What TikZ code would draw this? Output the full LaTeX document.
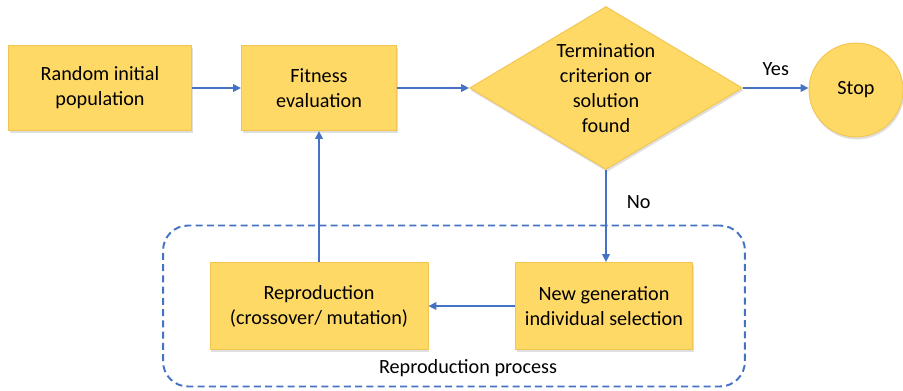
\documentclass[tikz,border=0pt]{standalone}
\usepackage{fontspec}
\setmainfont{Carlito}
\usetikzlibrary{shapes.geometric,arrows.meta,shadows}
\definecolor{gabox}{RGB}{255,217,102}
\definecolor{gaedge}{RGB}{242,196,80}
\definecolor{gablue}{RGB}{68,114,196}
\begin{document}
\begin{tikzpicture}[x=0.02cm,y=-0.02cm,
    font=\fontsize{11.5}{14.2}\selectfont,
    gastep/.style={draw=gaedge,line width=.5pt,fill=gabox,align=center,
      drop shadow={opacity=.25,shadow xshift=.6pt,shadow yshift=-1.4pt}},
    arr/.style={draw=gablue,line width=1.1pt,-{Triangle[length=4.5pt,width=4.2pt]}}]
  \useasboundingbox (0,0) rectangle (903,390);
  % top row
  \node[gastep,minimum width=3.66cm,minimum height=1.7cm] (init) at (100,88)
    {Random initial\\population};
  \node[gastep,minimum width=3.1cm,minimum height=1.7cm] (fit) at (319,88)
    {Fitness\\evaluation};
  \node[gastep,diamond,aspect=1.67,inner sep=0pt,minimum width=5.46cm,
    minimum height=3.26cm] (term) at (606,88)
    {Termination\\criterion or\\solution\\found};
  \node[gastep,circle,minimum size=1.88cm,inner sep=0pt] (stop) at (856,90) {Stop};
  % reproduction loop
  \node[draw=gablue,line width=1.1pt,dash pattern=on 4pt off 2.4pt,
    rounded corners=.5cm,minimum width=11.64cm,minimum height=3.22cm] (proc) at (454,306) {};
  \node[gastep,minimum width=4.36cm,minimum height=1.74cm] (repro) at (319,306)
    {Reproduction\\(crossover/ mutation)};
  \node[gastep,minimum width=3.54cm,minimum height=1.74cm] (newgen) at (604,306)
    {New generation\\individual selection};
  \node (proclbl) at (468,368) {Reproduction process};
  % connectors
  \draw[arr] (init) -- (fit);
  \draw[arr] (fit) -- (term);
  \draw[arr] (term.east) -- (term.east -| stop.west) node[midway,above=3pt,text=black] {Yes};
  \draw[arr] (term.south) -- (term.south |- newgen.north) node[pos=.35,right=8pt,text=black] {No};
  \draw[arr] (newgen) -- (repro);
  \draw[arr] (repro) -- (fit);
\end{tikzpicture}
\end{document}
